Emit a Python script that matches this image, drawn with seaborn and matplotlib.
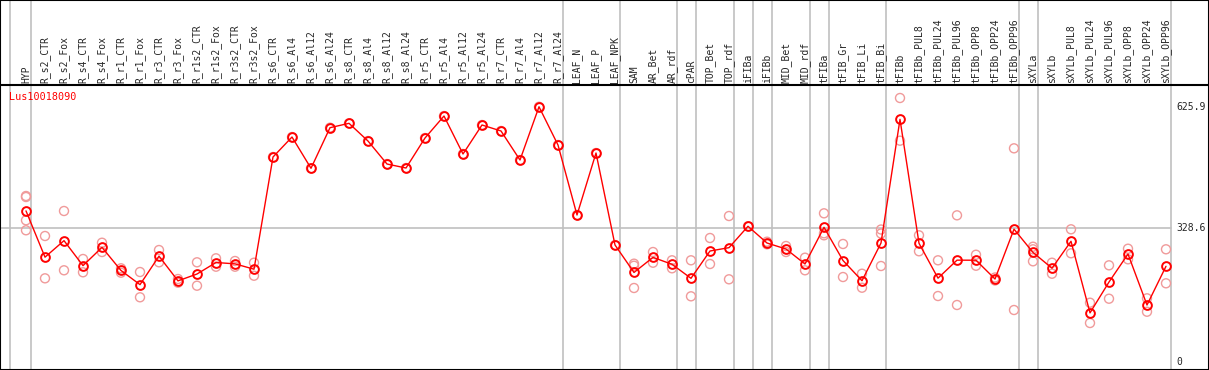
import numpy as np
import pandas as pd
import matplotlib
matplotlib.use('Agg')
import matplotlib.pyplot as plt
import seaborn as sns

# örnek adları (sütunlar)
samples = ['HYP', 'R_s2_CTR', 'R_s2_Fox', 'R_s4_CTR', 'R_s4_Fox', 'R_r1_CTR', 'R_r1_Fox',
           'R_r3_CTR', 'R_r3_Fox', 'R_r1s2_CTR', 'R_r1s2_Fox', 'R_r3s2_CTR', 'R_r3s2_Fox',
           'R_s6_CTR', 'R_s6_Al4', 'R_s6_Al12', 'R_s6_Al24', 'R_s8_CTR', 'R_s8_Al4',
           'R_s8_Al12', 'R_s8_Al24', 'R_r5_CTR', 'R_r5_Al4', 'R_r5_Al12', 'R_r5_Al24',
           'R_r7_CTR', 'R_r7_Al4', 'R_r7_Al12', 'R_r7_Al24', 'LEAF_N', 'LEAF_P', 'LEAF_NPK',
           'SAM', 'AR_Bet', 'AR_rdf', 'cPAR', 'TOP_Bet', 'TOP_rdf', 'iFIBa', 'iFIBb',
           'MID_Bet', 'MID_rdf', 'tFIBa', 'tFIB_Gr', 'tFIB_Li', 'tFIB_Bi', 'tFIBb',
           'tFIBb_PUL8', 'tFIBb_PUL24', 'tFIBb_PUL96', 'tFIBb_OPP8', 'tFIBb_OPP24',
           'tFIBb_OPP96', 'sXYLa', 'sXYLb', 'sXYLb_PUL8', 'sXYLb_PUL24', 'sXYLb_PUL96',
           'sXYLb_OPP8', 'sXYLb_OPP24', 'sXYLb_OPP96']

# tekrar ölçümleri (ortalama bunlardan hesaplanıyor)
replicates = [
    [407.1, 404.6, 347.5, 323.0], [309.0, 205.2], [370.3, 224.9], [252.6, 220.0],
    [292.5, 269.7], [229.8, 219.0], [220.7, 158.7], [274.6, 244.5], [203.5, 194.5],
    [244.5, 187.1], [254.3, 233.7], [247.7, 233.7], [243.5, 211.6],
    [502.7], [551.7], [475.0], [574.6], [585.3], [541.9], [485.5], [475.7],
    [549.3], [603.2], [510.1], [581.2], [566.5], [495.3], [625.9], [532.1],
    [360.5], [512.5], [286.9],
    [241.1, 236.1, 181.5], [269.7, 243.5], [249.4, 229.8], [249.4, 161.1],
    [304.1, 240.3], [358.0, 202.8], [332.8], [295.0, 288.6], [284.5, 269.7],
    [255.8, 224.9], [364.6, 315.6, 310.7], [289.4, 208.4], [216.5, 182.2],
    [324.9, 315.1, 235.4], [647.4, 542.7], [310.7, 271.5], [249.4, 161.8],
    [359.7, 139.8], [263.1, 236.1], [207.2, 199.9], [524.0, 127.5],
    [282.7, 276.4, 246.9], [243.5, 216.5], [325.4, 266.6], [145.4, 95.6],
    [237.1, 155.2], [277.8, 251.8], [156.2, 123.3], [276.4, 193.0],
]

gene_name = 'Lus10018090'
y_ticks = [625.9, 328.6, 0]
# grup ayırıcıları: her grubun son sütunu
group_ends = [0, 28, 31, 34, 35, 37, 38, 39, 41, 42, 45, 52, 53, 60]

rows = []
for i, (s, reps) in enumerate(zip(samples, replicates)):
    for v in reps:
        rows.append({'pos': i, 'sample': s, 'value': v})
df = pd.DataFrame(rows)

sns.set_style('white')
plt.rcParams['font.family'] = ['DejaVu Sans Mono']

fig = plt.figure(figsize=(12.09, 3.70), dpi=100)
ax = fig.add_axes([0, 0, 1, 1])

ymin, ymax = -19.6, 887.7
label_base = 679.3

# dikey gri çizgiler
for g in [-0.84] + [e + 0.25 for e in group_ends]:
    ax.axvline(g, color='#c0c0c0', lw=1.2, zorder=0)
ax.axhline(328.6, xmax=(60.25 + 1.368) / (62.263 + 1.368), color='#c0c0c0', lw=1.2, zorder=0)
ax.axhline(label_base, color='black', lw=1.5, zorder=1)

sns.scatterplot(data=df, x='pos', y='value', ax=ax, marker='o', s=42,
                facecolors='none', edgecolor='#f09a9a', linewidth=1.0, zorder=2)
sns.lineplot(data=df, x='pos', y='value', ax=ax, estimator='mean', errorbar=None,
             color='red', lw=1.0, marker='o', markersize=6.3, markerfacecolor='none',
             markeredgecolor='red', markeredgewidth=1.4, zorder=3)

for i, s in enumerate(samples):
    ax.text(i, label_base + 6, s, rotation=90, ha='center', va='bottom', fontsize=7)

for t in y_ticks:
    ax.text(60.55, t, f'{t:g}', ha='left', va='center', fontsize=7)

ax.text(-0.9, 650, gene_name, color='red', ha='left', va='center', fontsize=7.3)

ax.set_xlim(-26 / 19, (1209 - 26) / 19)
ax.set_ylim(ymin, ymax)
ax.set_xticks([])
ax.set_yticks([])
ax.set_xlabel('')
ax.set_ylabel('')
for sp in ax.spines.values():
    sp.set_visible(True)
    sp.set_color('black')
    sp.set_linewidth(1.5)

fig.savefig('out.png', dpi=100)
plt.close()
